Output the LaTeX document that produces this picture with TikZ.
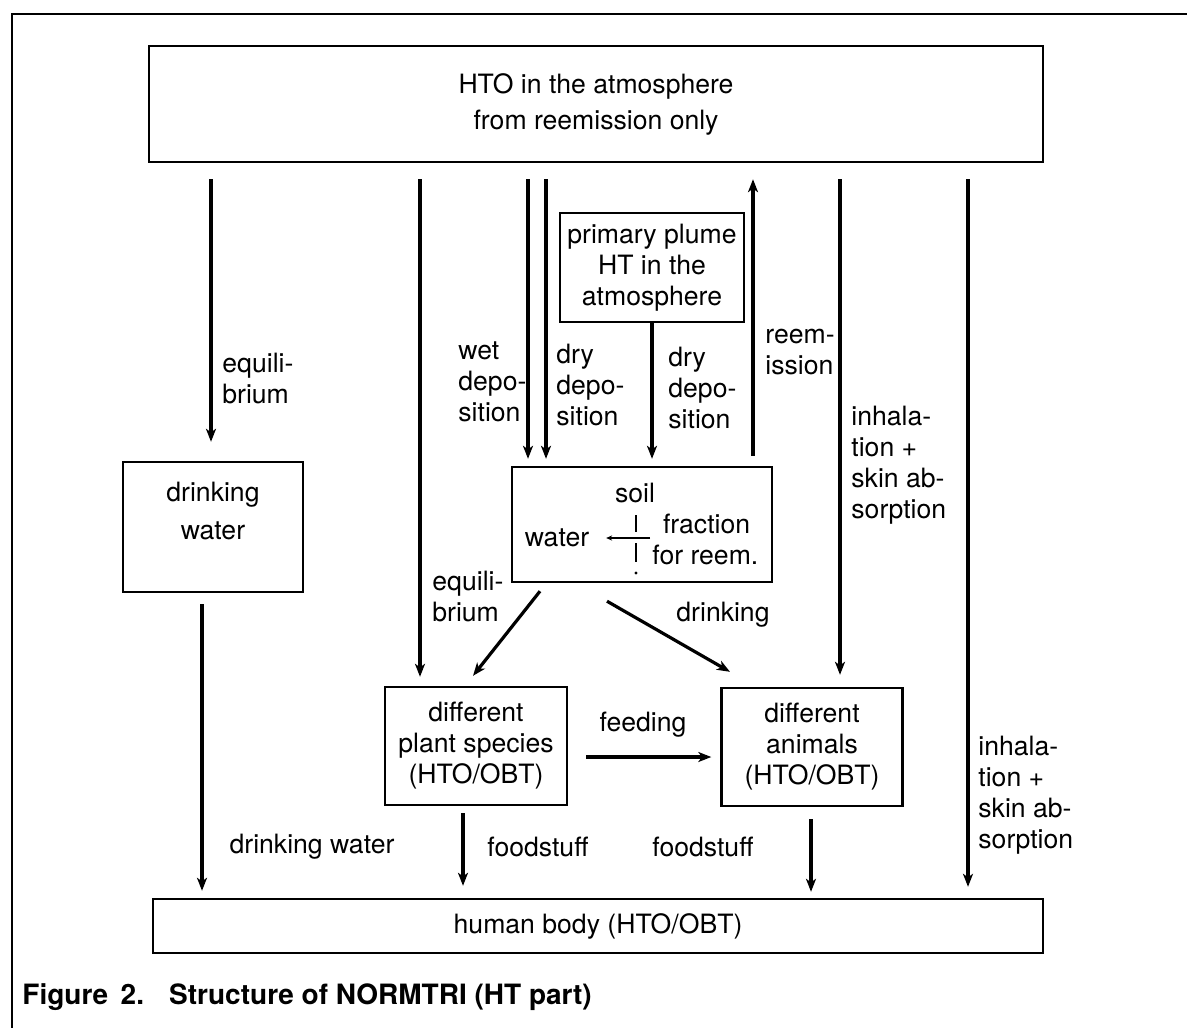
\documentclass[tikz,border=0pt]{standalone}
\usepackage{fontspec}
\setmainfont{TeX Gyre Heros}
\usetikzlibrary{arrows.meta,calc}

\tikzset{
  box/.style={draw, line width=1.2pt, align=center, inner sep=0pt},
  flow/.style={line width=1.6pt, -{Stealth[length=6.5pt,width=5pt,inset=1.8pt]}},
  lbl/.style={anchor=west, align=left, inner sep=0pt},
}

\begin{document}
\begin{tikzpicture}[x=0.5pt, y=-0.5pt, font=\fontsize{13.3}{15.5}\selectfont]
\useasboundingbox (0,0) rectangle (1187,1028);

% Frame of the figure
\draw[line width=1pt] (1187,14) -- (12,14) -- (12,1028);

% Boxes
\node[box, minimum width=447pt, minimum height=58pt] (atmo) at (596,104)
  {HTO in the atmosphere\\[2.5pt]from reemission only};
\node[box, minimum width=92pt, minimum height=54.5pt] (plume) at (652,267.5)
  {primary plume\\HT in the\\atmosphere};
\node[box, minimum width=90pt, minimum height=65pt] (drink) at (213,527) {};
\node[align=center, inner sep=0pt] (drinktxt) at (213,511) {drinking\\[3.5pt]water};
\node[box, minimum width=130pt, minimum height=57.5pt] (soil) at (642,524.5) {};
\node[box, minimum width=91pt, minimum height=59pt] (plant) at (476,746)
  {different\\plant species\\(HTO/OBT)};
\node[box, minimum width=90.5pt, minimum height=59pt] (animal) at (812,747)
  {different\\animals\\(HTO/OBT)};
\node[box, minimum width=445pt, minimum height=27pt] (human) at (598,926)
  {human body (HTO/OBT)};

% Inside the soil box
\node (soiltxt) at (635,493) {soil};
\node (soilwater) at (557,538) {water};
\node[lbl] (soilreem) at (652,539) {\hspace*{0.4em}fraction\\for reem.};
\coordinate (split) at (650,538);
\draw[line width=0.8pt] (636,515) -- (636,532);
\draw[line width=0.8pt] (636,543) -- (636,562);
\fill (636,573) circle (0.8pt);
\draw[line width=0.6pt, -{Stealth[length=3pt,width=2.6pt]}]
  (split) -- ($(soilwater.east)+(10,0)$);

% From the atmosphere downward
\draw[flow] ($(atmo.south -| drink.north)+(-2,16)$) -- ($(drink.north)+(-2,-19)$);
\draw[flow] ($(atmo.south -| plant.north)+(-56,16)$) -- ($(plant.north)+(-56,-9)$);
\draw[flow] ($(atmo.south -| soil.north)+(-114,16)$) -- ($(soil.north)+(-114,-7)$);
\draw[flow] ($(atmo.south -| soil.north)+(-96,16)$) -- ($(soil.north)+(-96,-7)$);
\draw[flow] (plume.south) -- ($(plume.south |- soil.north)+(0,-7)$);
\draw[flow] ($(soil.north)+(111,-10)$) -- ($(atmo.south -| soil.north)+(111,16)$);
\draw[flow] ($(atmo.south -| animal.north)+(28,16)$) -- ($(animal.north)+(28,-12)$);
\draw[flow] ($(atmo.south -| human.north)+(370,16)$) -- ($(human.north)+(370,-11)$);

% From soil to plants and animals
\draw[flow] ($(soil.south)+(-102,8)$) -- ($(plant.north)+(-3,-10)$);
\draw[flow] ($(soil.south)+(-35,18)$) -- ($(animal.north)+(-82,-15)$);
\draw[flow] ($(plant.east)+(18,11)$) -- ($(animal.west)+(-9,10)$);

% Toward the human body
\draw[flow] ($(drink.south)+(-11,11)$) -- ($(human.north -| drink.south)+(-11,-7)$);
\draw[flow] ($(plant.south)+(-13,7)$) -- ($(human.north -| plant.south)+(-13,-12)$);
\draw[flow] ($(animal.south)+(-1,12)$) -- ($(human.north -| animal.south)+(-1,-6)$);

% Labels on the connectors
\node[lbl] (eqdrink) at (222,378) {equili-\\brium};
\node[lbl] (wetlbl) at (458,382) {wet\\depo-\\sition};
\node[lbl] (drylbl) at (556,385) {dry\\depo-\\sition};
\node[lbl] (plumelbl) at (668,388) {dry\\depo-\\sition};
\node[lbl] (reemlbl) at (765,352) {reem-\\ission};
\node[lbl] (inhaltop) at (851,465) {inhala-\\tion +\\skin ab-\\sorption};
\node[lbl] (inhalbot) at (978,795) {inhala-\\tion +\\skin ab-\\sorption};
\node[lbl] (eqplant) at (432,596) {equili-\\brium};
\node (drinklbl) at (723,615) {drinking};
\node (feedlbl) at (643,725) {feeding};
\node (waterlbl) at (312,847) {drinking water};
\node[lbl] (foodplant) at (487,847) {foodstuff};
\node[lbl] (foodanimal) at (652,847) {foodstuff};

% Caption
\node[anchor=west, inner sep=0pt, font=\bfseries\fontsize{14}{16}\selectfont] (caption)
  at (22,997) {Figure\hspace{0.45em}2.\hspace{0.9em}Structure of NORMTRI (HT part)};

\end{tikzpicture}
\end{document}
